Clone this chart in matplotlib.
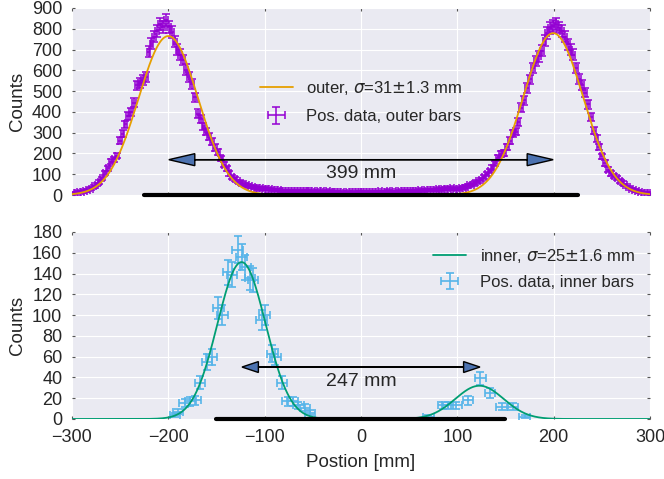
import matplotlib
matplotlib.use("Agg")
import matplotlib.pyplot as plt
import numpy as np

# outer bars: 3 mm bins from -300 to 300
bin_width = 3.0
outer_pos = np.arange(-300 + bin_width / 2, 300, bin_width)
outer_counts = [
    10, 12, 14, 16, 19, 24, 31, 42, 50, 63,
    80, 105, 128, 160, 172, 190, 262, 295, 340, 378,
    398, 445, 528, 540, 552, 566, 690, 728, 762, 790,
    825, 810, 840, 808, 786, 738, 700, 676, 650, 604,
    570, 535, 470, 392, 365, 330, 305, 280, 256, 228,
    205, 176, 146, 128, 104, 88, 76, 66, 58, 52,
    47, 42, 39, 36, 34, 32, 31, 29, 28, 26,
    25, 22, 21, 20, 19, 21, 18, 20, 17, 19,
    18, 20, 17, 18, 16, 19, 17, 15, 18, 16,
    14, 15, 13, 15, 12, 14, 13, 15, 13, 14,
    14, 15, 13, 16, 14, 15, 17, 14, 16, 18,
    15, 17, 16, 19, 17, 20, 18, 19, 21, 19,
    22, 20, 23, 24, 22, 25, 27, 26, 29, 31,
    30, 33, 28, 30, 34, 36, 40, 46, 50, 58,
    66, 74, 86, 100, 116, 132, 152, 180, 196, 204,
    230, 262, 296, 305, 352, 420, 456, 515, 556, 612,
    645, 668, 695, 742, 780, 805, 815, 822, 806, 790,
    762, 726, 700, 676, 610, 560, 530, 492, 436, 376,
    310, 272, 232, 186, 154, 122, 104, 92, 82, 68,
    58, 48, 38, 30, 24, 18, 15, 12, 11, 10,
]

# inner bars
inner_pos = [-193, -190, -183, -177, -172, -167, -160, -155, -148, -144,
             -138, -134, -128, -124, -120, -115, -112, -103, -100, -92,
             -89, -82, -76, -71, -65, -58, -53,
             70, 85, 90, 99, 111, 124, 134, 146, 158, 170]
inner_counts = [4, 7, 15, 17, 18, 35, 55, 60, 107, 100,
                141, 139, 163, 156, 146, 136, 134, 95, 100, 63,
                60, 35, 17, 17, 13, 11, 6,
                2, 13, 13, 13, 18, 39, 25, 12, 12, 2]

# gaussian fit results (amplitude, mean) per peak, and sigma
outer_fit = [(765, -200.0), (779, 199.5)]
outer_sigma, outer_sigma_err = 31, 1.3
inner_fit = [(151, -124.0), (32, 123.0)]
inner_sigma, inner_sigma_err = 25, 1.6

outer_dist = 399
inner_dist = 247

plt.style.use("seaborn-v0_8-darkgrid")
plt.rcParams["font.family"] = ["Liberation Sans", "DejaVu Sans"]
plt.rcParams["text.color"] = "#262626"
plt.rcParams["xtick.color"] = "#262626"
plt.rcParams["ytick.color"] = "#262626"
plt.rcParams["axes.labelcolor"] = "#262626"


def gauss(x, peaks, sigma):
    y = np.zeros_like(x)
    for amp, mu in peaks:
        y += amp * np.exp(-0.5 * ((x - mu) / sigma) ** 2)
    return y


fig = plt.figure(figsize=(6.64, 4.79), dpi=100)
ax1 = fig.add_axes([0.1084, 0.5929, 0.8705, 0.3904])
ax2 = fig.add_axes([0.1084, 0.1253, 0.8705, 0.3904], sharex=ax1)

xs = np.linspace(-300, 300, 1201)
oc = np.array(outer_counts, dtype=float)
ic = np.array(inner_counts, dtype=float)

ax1.errorbar(outer_pos, oc, xerr=2, yerr=np.sqrt(oc), fmt="none",
             ecolor="darkviolet", elinewidth=1.1, capsize=3, capthick=1.1,
             label="Pos. data, outer bars")
ax1.plot(xs, gauss(xs, outer_fit, outer_sigma), color="#E69F00", lw=1.3,
         label=r"outer, $\sigma$=%d$\pm$%.1f mm" % (outer_sigma, outer_sigma_err))
ax1.plot([-225, 225], [0, 0], color="k", lw=3, solid_capstyle="round", clip_on=False, zorder=5)
for d in (-1, 1):
    ax1.arrow(0, 170, d * outer_dist / 2, 0, head_width=58, head_length=27,
              length_includes_head=True, fc="#4C72B0", ec="k", lw=1.0, zorder=6)
ax1.text(0, 104, "%d mm" % outer_dist, ha="center", va="center", fontsize=14)
ax1.set_ylim(0, 900)
ax1.set_yticks(np.arange(0, 901, 100))
ax1.set_ylabel("Counts", fontsize=13.5)
ax1.legend(loc="center", fontsize=12, frameon=False, labelspacing=0.75)
plt.setp(ax1.get_xticklabels(), visible=False)

ax2.errorbar(inner_pos, ic, xerr=5.5, yerr=np.sqrt(ic), fmt="none",
             ecolor="#56B4E9", elinewidth=1.2, capsize=3, capthick=1.2,
             label="Pos. data, inner bars")
ax2.plot(xs, gauss(xs, inner_fit, inner_sigma), color="#009E73", lw=1.3,
         label=r"inner, $\sigma$=%d$\pm$%.1f mm" % (inner_sigma, inner_sigma_err))
ax2.plot([-150, 150], [0, 0], color="k", lw=3, solid_capstyle="round", clip_on=False, zorder=5)
for d in (-1, 1):
    ax2.arrow(0, 50, d * inner_dist / 2, 0, head_width=10.5, head_length=17,
              length_includes_head=True, fc="#4C72B0", ec="k", lw=1.0, zorder=6)
ax2.text(0, 36, "%d mm" % inner_dist, ha="center", va="center", fontsize=14)
ax2.set_ylim(0, 180)
ax2.set_yticks(np.arange(0, 181, 20))
ax2.set_xlim(-300, 300)
ax2.set_xticks(np.arange(-300, 301, 100))
ax2.set_ylabel("Counts", fontsize=13.5)
ax2.set_xlabel("Postion [mm]", fontsize=13.5, labelpad=6)
ax2.legend(loc="upper right", fontsize=12, frameon=False, labelspacing=0.6)

for ax in (ax1, ax2):
    ax.tick_params(which="both", direction="in", length=2.5, top=True, right=True,
                   color="#555555", labelsize=13, pad=7)

fig.savefig("out.png", dpi=100)
